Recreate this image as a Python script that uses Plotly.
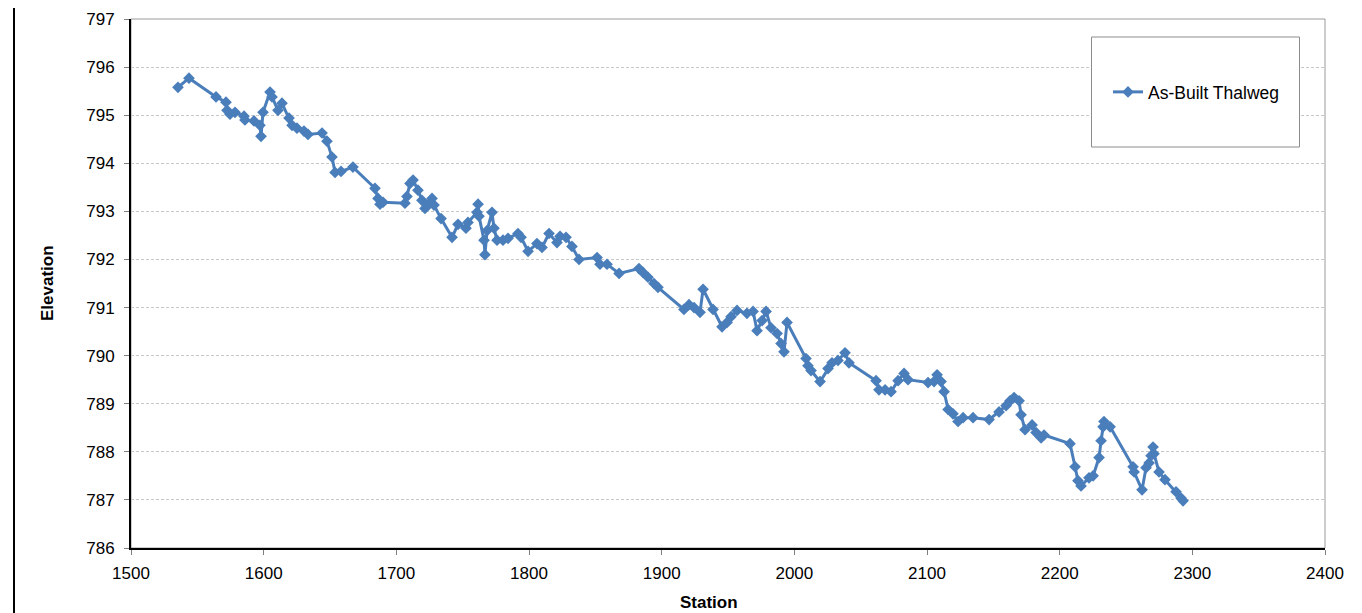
import plotly.graph_objects as go

station = [
    1535.4, 1543.7, 1564.1, 1571.6, 1572.4, 1574.6, 1578.4, 1585.2, 1585.9, 1592.7,
    1597.2, 1598.0, 1599.5, 1604.8, 1606.3, 1610.8, 1613.8, 1619.1, 1621.4, 1625.1,
    1630.4, 1633.4, 1644.0, 1647.7, 1651.5, 1653.8, 1658.3, 1667.3, 1683.9, 1686.2,
    1687.7, 1690.0, 1706.5, 1708.0, 1710.3, 1712.6, 1716.3, 1719.3, 1721.6, 1725.4,
    1726.9, 1728.4, 1733.7, 1742.0, 1746.5, 1752.5, 1754.0, 1760.8, 1761.6, 1762.3,
    1766.1, 1766.8, 1768.4, 1772.1, 1773.6, 1775.9, 1780.4, 1784.2, 1791.7, 1794.0,
    1799.3, 1806.0, 1809.8, 1815.1, 1821.1, 1823.4, 1827.9, 1832.4, 1837.7, 1851.3,
    1853.5, 1858.8, 1867.9, 1882.9, 1885.9, 1889.7, 1894.2, 1897.2, 1916.8, 1920.6,
    1924.4, 1928.9, 1931.2, 1938.7, 1945.5, 1949.3, 1952.3, 1956.8, 1964.3, 1968.9,
    1971.9, 1975.7, 1978.7, 1982.4, 1987.0, 1990.0, 1992.2, 1994.5, 2008.8, 2010.3,
    2012.6, 2019.4, 2025.4, 2028.4, 2032.9, 2038.2, 2041.2, 2061.6, 2063.8, 2068.4,
    2072.9, 2078.2, 2082.7, 2085.7, 2100.8, 2105.3, 2107.6, 2110.6, 2112.9, 2115.9,
    2119.6, 2123.4, 2127.2, 2134.7, 2146.8, 2154.3, 2159.6, 2162.6, 2165.6, 2169.4,
    2170.9, 2173.9, 2179.2, 2182.2, 2186.0, 2188.2, 2207.8, 2211.6, 2213.8, 2216.1,
    2222.1, 2225.2, 2229.7, 2231.2, 2232.7, 2233.4, 2238.0, 2255.3, 2256.1, 2262.1,
    2265.1, 2267.4, 2268.9, 2270.4, 2271.1, 2274.9, 2279.4, 2287.7, 2291.5, 2293.0,
]

elevation = [
    795.58, 795.77, 795.38, 795.27, 795.10, 795.02, 795.06, 794.98, 794.90, 794.88,
    794.79, 794.56, 795.06, 795.48, 795.38, 795.10, 795.25, 794.94, 794.79, 794.73,
    794.67, 794.60, 794.63, 794.46, 794.13, 793.81, 793.83, 793.92, 793.48, 793.27,
    793.15, 793.19, 793.17, 793.31, 793.58, 793.65, 793.44, 793.23, 793.06, 793.17,
    793.27, 793.13, 792.85, 792.46, 792.73, 792.65, 792.77, 792.98, 793.15, 792.90,
    792.40, 792.10, 792.60, 792.98, 792.65, 792.40, 792.40, 792.44, 792.54, 792.46,
    792.17, 792.33, 792.25, 792.54, 792.35, 792.48, 792.46, 792.27, 792.00, 792.04,
    791.90, 791.90, 791.71, 791.81, 791.73, 791.63, 791.50, 791.42, 790.96, 791.06,
    791.00, 790.90, 791.38, 790.96, 790.60, 790.69, 790.81, 790.94, 790.88, 790.92,
    790.52, 790.73, 790.92, 790.58, 790.46, 790.25, 790.08, 790.69, 789.94, 789.79,
    789.69, 789.46, 789.73, 789.85, 789.90, 790.06, 789.85, 789.48, 789.29, 789.29,
    789.25, 789.48, 789.63, 789.50, 789.44, 789.46, 789.60, 789.46, 789.25, 788.88,
    788.79, 788.63, 788.71, 788.71, 788.67, 788.83, 788.96, 789.06, 789.13, 789.06,
    788.77, 788.46, 788.56, 788.40, 788.29, 788.35, 788.17, 787.69, 787.40, 787.29,
    787.46, 787.50, 787.88, 788.23, 788.52, 788.63, 788.52, 787.69, 787.58, 787.21,
    787.67, 787.77, 787.92, 788.10, 787.96, 787.58, 787.42, 787.17, 787.04, 786.98,
]

x_ticks = [1500, 1600, 1700, 1800, 1900, 2000, 2100, 2200, 2300, 2400]
y_ticks = [786, 787, 788, 789, 790, 791, 792, 793, 794, 795, 796, 797]

series_name = "As-Built Thalweg"
color = "#4A7EBB"
font_family = "Liberation Sans, Arial, sans-serif"

# page offset of the figure inside the browser page (default body margin)
OFF = 8
W, H = 1346, 605
L, T = 131 - OFF, 19 - OFF
R = W - (1325 - OFF)
B = H - (548 - OFF)
pw, ph = W - L - R, H - T - B


def px_x(p):
    return (p - OFF - L) / pw


def px_y(p):
    return (H - B - (p - OFF)) / ph


fig = go.Figure()
fig.add_trace(go.Scatter(
    x=station, y=elevation, mode="lines+markers", name=series_name,
    line=dict(color=color, width=3),
    marker=dict(symbol="diamond", size=9, color=color),
))

fig.update_layout(
    width=W, height=H,
    margin=dict(l=L, r=R, t=T, b=B, autoexpand=False),
    paper_bgcolor="white", plot_bgcolor="white",
    font=dict(family=font_family, size=17, color="black"),
    showlegend=True,
    legend=dict(x=px_x(1108), y=px_y(92), xanchor="left", yanchor="middle",
                bgcolor="rgba(0,0,0,0)", borderwidth=0,
                font=dict(size=17.5, family=font_family, color="black")),
    xaxis=dict(range=[1500, 2400], tickvals=x_ticks, ticktext=[str(v) for v in x_ticks],
               showgrid=False, zeroline=False, showline=True, linecolor="black", linewidth=2,
               ticks="outside", ticklen=5, tickcolor="#808080", tickwidth=1,
               tickfont=dict(size=17), ticklabelstandoff=4),
    yaxis=dict(range=[786, 797], tickvals=y_ticks, ticktext=[str(v) for v in y_ticks],
               showgrid=True, gridcolor="#C8C8C8", gridwidth=1, griddash="3px,2px",
               zeroline=False, showline=True, linecolor="black", linewidth=2,
               ticks="outside", ticklen=5, tickcolor="#808080", tickwidth=1,
               tickfont=dict(size=17), ticklabelstandoff=6),
    shapes=[
        dict(type="rect", xref="paper", yref="paper", x0=0, x1=1, y0=0, y1=1,
             line=dict(color="#9A9A9A", width=1), layer="below"),
        dict(type="rect", xref="paper", yref="paper",
             x0=px_x(1091.5), x1=px_x(1299.5), y0=px_y(147), y1=px_y(37),
             line=dict(color="#8C8C8C", width=1), fillcolor="white", layer="above"),
        dict(type="line", xref="paper", yref="paper",
             x0=px_x(14), x1=px_x(14), y0=px_y(H + OFF), y1=px_y(OFF),
             line=dict(color="black", width=2)),
    ],
    annotations=[
        dict(text="<b>Station</b>", xref="paper", yref="paper", x=px_x(709), y=px_y(602),
             xanchor="center", yanchor="middle", showarrow=False,
             font=dict(size=17, family=font_family, color="black")),
        dict(text="<b>Elevation</b>", xref="paper", yref="paper", x=px_x(47), y=px_y(283),
             xanchor="center", yanchor="middle", showarrow=False, textangle=-90,
             font=dict(size=17, family=font_family, color="black")),
    ],
)

fig.write_html("out.html")
